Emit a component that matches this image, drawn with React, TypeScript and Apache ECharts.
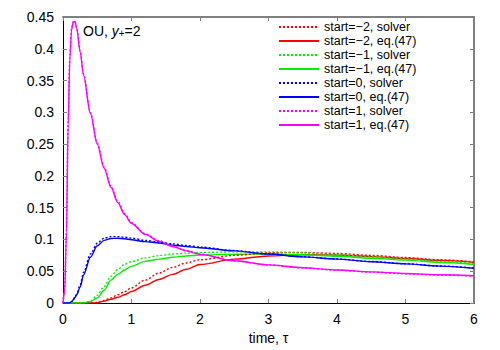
import React, { useEffect, useRef } from "react";
import * as echarts from "echarts";

const tau = [0, 0.025, 0.05, 0.075, 0.1, 0.125, 0.15, 0.175, 0.2, 0.25, 0.3, 0.4, 0.5, 0.6, 0.7, 0.8, 0.9, 1.0, 1.2, 1.4, 1.6, 1.8, 2.0, 2.5, 3.0, 3.5, 4.0, 4.5, 5.0, 5.5, 6.0];

const redSolver = [0, 0, 0, 0, 0, 0, 0, 0, 0, 0, 0, 0, 0.0008, 0.004, 0.008, 0.013, 0.018, 0.024, 0.036, 0.047, 0.056, 0.063, 0.068, 0.075, 0.079, 0.0795, 0.078, 0.075, 0.0715, 0.068, 0.0648];
const redEq = [0, 0, 0, 0, 0, 0, 0, 0, 0, 0, 0, 0, 0.0005, 0.003, 0.006, 0.009, 0.013, 0.018, 0.028, 0.037, 0.045, 0.053, 0.0605, 0.069, 0.074, 0.076, 0.0755, 0.073, 0.07, 0.067, 0.064];
const greenSolver = [0, 0, 0, 0, 0, 0, 0, 0, 0, 0, 0.0003, 0.003, 0.012, 0.026, 0.042, 0.053, 0.061, 0.065, 0.071, 0.0745, 0.077, 0.0785, 0.0795, 0.0805, 0.0805, 0.079, 0.076, 0.0725, 0.069, 0.0655, 0.062];
const greenEq = [0, 0, 0, 0, 0, 0, 0, 0, 0, 0, 0.0002, 0.002, 0.008, 0.02, 0.036, 0.045, 0.052, 0.058, 0.0655, 0.069, 0.072, 0.074, 0.0755, 0.0768, 0.077, 0.076, 0.0735, 0.0705, 0.0675, 0.064, 0.0605];
const blueSolver = [0, 0, 0, 0, 0.0005, 0.0025, 0.006, 0.0095, 0.014, 0.028, 0.048, 0.077, 0.094, 0.102, 0.1045, 0.1045, 0.1035, 0.102, 0.0985, 0.096, 0.093, 0.0905, 0.088, 0.0825, 0.0772, 0.0727, 0.0692, 0.0652, 0.0617, 0.0582, 0.0549];
const blueEq = [0, 0, 0, 0, 0.0003, 0.002, 0.005, 0.0086, 0.013, 0.025, 0.044, 0.072, 0.09, 0.0985, 0.1015, 0.1018, 0.101, 0.0995, 0.0965, 0.0945, 0.091, 0.089, 0.087, 0.082, 0.077, 0.0725, 0.069, 0.065, 0.0615, 0.058, 0.0547];
const magentaSolver = [0, 0.022, 0.115, 0.285, 0.388, 0.432, 0.443, 0.443, 0.433, 0.397, 0.36, 0.3, 0.252, 0.214, 0.184, 0.16, 0.141, 0.1265, 0.109, 0.098, 0.0895, 0.0825, 0.0768, 0.0665, 0.0598, 0.0552, 0.0516, 0.0486, 0.0461, 0.044, 0.0423];
const magentaEq = [0, 0.02, 0.11, 0.28, 0.385, 0.43, 0.442, 0.443, 0.432, 0.395, 0.358, 0.298, 0.25, 0.212, 0.182, 0.158, 0.139, 0.125, 0.108, 0.097, 0.089, 0.082, 0.0765, 0.0665, 0.06, 0.0555, 0.052, 0.049, 0.0465, 0.0445, 0.0428];

const seriesNames = [
  "start=\u22122, solver",
  "start=\u22122, eq.(47)",
  "start=\u22121, solver",
  "start=\u22121, eq.(47)",
  "start=0, solver",
  "start=0, eq.(47)",
  "start=1, solver",
  "start=1, eq.(47)",
];
const seriesValues = [redSolver, redEq, greenSolver, greenEq, blueSolver, blueEq, magentaSolver, magentaEq];
const seriesColors = ["#ff0000", "#ff0000", "#00f000", "#00f000", "#0000ff", "#0000ff", "#ff00ff", "#ff00ff"];
const seriesDotted = [true, false, true, false, true, false, true, false];

const xTicks = { min: 0, max: 6, interval: 1 };
const yTicks = { min: 0, max: 0.45, interval: 0.05 };

const FONT = "Liberation Sans";
const FS = 14;

export default function App() {
  const ref = useRef<HTMLDivElement>(null);
  useEffect(() => {
    document.body.style.margin = "0";
    const chart = echarts.init(ref.current!, null, { renderer: "svg" });
    const tickStyle = { show: true, inside: true, length: 4, lineStyle: { color: "#808080", width: 1 } };
    chart.setOption({
      animation: false,
      backgroundColor: "#fff",
      textStyle: { fontFamily: FONT },
      grid: { left: 63, right: 26, top: 17, bottom: 45, containLabel: false },
      legend: {
        orient: "vertical",
        left: 278,
        top: 20,
        padding: 0,
        itemGap: 0,
        itemWidth: 40,
        itemHeight: 14,
        data: seriesNames,
        itemStyle: { opacity: 0, borderWidth: 0 },
        textStyle: { fontFamily: FONT, fontSize: 12.5, color: "#000", lineHeight: 14 },
      },
      graphic: [
        {
          type: "text",
          left: 83,
          top: 14,
          style: {
            text: "{n|OU, }{i|y}{s|+}{n|=2}",
            rich: {
              n: { fontFamily: FONT, fontSize: FS, fill: "#000", lineHeight: 20, verticalAlign: "bottom" },
              i: { fontFamily: FONT, fontSize: FS, fontStyle: "italic", fill: "#000", lineHeight: 20, verticalAlign: "bottom" },
              s: { fontFamily: FONT, fontSize: 10, fill: "#000", lineHeight: 10, verticalAlign: "bottom", padding: [14, 0, 0, 0] },
            },
          },
        },
      ],
      xAxis: [
        {
          type: "value",
          min: xTicks.min,
          max: xTicks.max,
          interval: xTicks.interval,
          name: "time, \u03c4",
          nameLocation: "middle",
          nameGap: 28,
          nameTextStyle: { fontFamily: FONT, fontSize: FS, color: "#000" },
          axisLine: { show: true, onZero: false, lineStyle: { color: "#000", width: 1 } },
          axisTick: tickStyle,
          axisLabel: { fontFamily: FONT, fontSize: FS, color: "#000", margin: 9 },
          splitLine: { show: false },
        },
        {
          type: "value",
          position: "top",
          min: xTicks.min,
          max: xTicks.max,
          interval: xTicks.interval,
          axisLine: { show: true, onZero: false, lineStyle: { color: "#808080", width: 2 } },
          axisTick: tickStyle,
          axisLabel: { show: false },
          splitLine: { show: false },
        },
      ],
      yAxis: [
        {
          type: "value",
          min: yTicks.min,
          max: yTicks.max,
          interval: yTicks.interval,
          axisLine: { show: true, onZero: false, lineStyle: { color: "#000", width: 1 } },
          axisTick: tickStyle,
          axisLabel: { fontFamily: FONT, fontSize: FS, color: "#000", margin: 9 },
          splitLine: { show: false },
        },
        {
          type: "value",
          position: "right",
          min: yTicks.min,
          max: yTicks.max,
          interval: yTicks.interval,
          axisLine: { show: true, onZero: false, lineStyle: { color: "#808080", width: 2 } },
          axisTick: tickStyle,
          axisLabel: { show: false },
          splitLine: { show: false },
        },
      ],
      series: seriesNames.map((name, k) => ({
        name,
        type: "line",
        xAxisIndex: 0,
        yAxisIndex: 0,
        symbol: "none",
        smooth: 0.3,
        smoothMonotone: "x",
        color: seriesColors[k],
        lineStyle: { color: seriesColors[k], width: 1.4, type: seriesDotted[k] ? [2, 2] : "solid" },
        data: tau.map((t, i) => [t, seriesValues[k][i]]),
        z: seriesDotted[k] ? 3 : 2,
      })),
    });
    return () => chart.dispose();
  }, []);
  return <div ref={ref} style={{ width: 500, height: 350 }} />;
}
